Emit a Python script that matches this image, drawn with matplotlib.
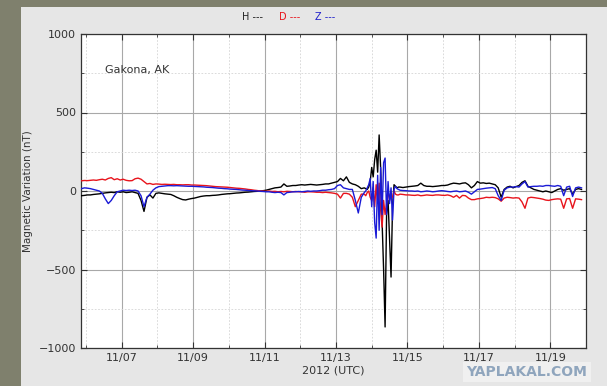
import numpy as np
import pandas as pd
import matplotlib
matplotlib.use("Agg")
import matplotlib.pyplot as plt

# ---- data -------------------------------------------------------------
start = pd.Timestamp("2012-11-05 21:00")
hours_a = np.arange(0, 190, 2)      # 2-hourly samples
hours_b = np.arange(190, 214, 1)    # hourly samples during the storm
hours_c = np.arange(214, 337, 2)    # 2-hourly samples

H_a = [-30, -28, -25, -25, -22, -20, -18, -15, -12, -10,
       -8, -10, -5, -8, -5, -10, -8, -5, -10, -15,
       -60, -130, -40, -25, -45, -15, -12, -15, -18, -20,
       -22, -30, -40, -48, -55, -57, -52, -48, -45, -40,
       -35, -32, -30, -30, -28, -27, -25, -22, -20, -18,
       -17, -15, -13, -12, -10, -8, -7, -5, -3, -2,
       0, 2, 5, 10, 15, 20, 22, 25, 45, 30,
       32, 35, 35, 38, 40, 38, 40, 42, 40, 38,
       40, 42, 45, 45, 50, 55, 60, 80, 65, 90,
       55, 45, 40, 30, 15]
D_a = [65, 67, 66, 68, 70, 68, 72, 75, 70, 80,
       85, 72, 78, 70, 75, 68, 65, 66, 78, 82,
       75, 60, 45, 48, 42, 45, 44, 42, 43, 42,
       41, 42, 40, 40, 39, 40, 40, 38, 38, 37,
       36, 35, 34, 32, 30, 28, 27, 26, 25, 24,
       22, 20, 18, 17, 15, 13, 10, 8, 5, 3,
       0, 0, -2, 0, -3, -2, -5, -3, -5, -2,
       -3, -5, -3, -5, -5, -8, -5, -5, -6, -8,
       -8, -10, -8, -10, -12, -15, -20, -45, -15, -15,
       -20, -40, -100, -60, -20]
Z_a = [15, 20, 18, 15, 10, 5, 0, -15, -50, -80,
       -60, -30, -5, 0, 5, 3, 5, 3, 5, 0,
       -30, -100, -40, -20, 5, 20, 28, 30, 32, 34,
       34, 33, 34, 33, 32, 31, 30, 30, 29, 28,
       27, 26, 24, 23, 22, 20, 18, 17, 15, 14,
       12, 11, 10, 8, 6, 5, 3, 2, 1, 0,
       -2, -3, -5, -5, -8, -10, -8, -10, -25, -10,
       -8, -5, -5, -3, -5, -3, 0, -2, 0, 0,
       2, 5, 5, 8, 10, 15, 35, 40, 20, 15,
       10, 10, -60, -140, -40]

H_b = [20, 15, 10, 25, 60, 150, 90, 200, 260, 120, 357, 150,
       -200, -500, -866, -150, -60, -300, -548, -100, 40, 30, 20, 25]
D_b = [-20, -30, -10, 0, -40, -60, 20, -100, 40, -80, 50, -120,
       -230, -60, -150, -80, 0, -60, -30, -40, 0, -20, -25, -25]
Z_b = [-10, 0, 20, 40, 80, -100, 60, -200, -300, 100, -250, 150,
       -150, 180, 210, -150, 60, -80, 20, -185, 10, 30, 15, 10]

H_c = [25, 22, 25, 28, 30, 32, 35, 50, 35, 30,
       30, 28, 30, 32, 35, 35, 38, 45, 50, 48,
       45, 50, 52, 40, 20, 35, 60, 50, 52, 48,
       50, 45, 40, 20, -40, 10, 25, 30, 20, 28,
       35, 55, 65, 30, 20, 10, 5, 0, -5, 0,
       -5, -10, 0, 10, 15, 5, 10, 15, -20, 10,
       15, 10]
D_c = [-20, -22, -25, -25, -27, -28, -25, -30, -28, -25,
       -27, -28, -25, -25, -27, -28, -25, -30, -40, -28,
       -45, -28, -30, -45, -55, -55, -50, -48, -45, -40,
       -42, -40, -42, -50, -65, -45, -40, -42, -45, -43,
       -45, -70, -110, -45, -40, -42, -45, -48, -52, -58,
       -60, -55, -52, -50, -52, -110, -50, -48, -110, -50,
       -52, -55]
Z_c = [5, 3, 2, 0, 0, -2, 0, -5, -3, 0,
       -2, -5, -3, 0, 2, 0, -3, -5, -2, 0,
       -5, -3, 0, -8, -20, -5, 10, 12, 15, 18,
       20, 22, 15, -30, -60, 5, 20, 25, 25, 28,
       25, 45, 60, 25, 28, 30, 30, 32, 30, 35,
       35, 32, 30, 35, 30, -30, 25, 30, -35, 20,
       25, 20]

hours = np.concatenate([hours_a, hours_b, hours_c])
times = start + pd.to_timedelta(hours, unit="h")
H = np.concatenate([H_a, H_b, H_c])
D = np.concatenate([D_a, D_b, D_c])
Z = np.concatenate([Z_a, Z_b, Z_c])

tick_labels = ["11/07", "11/09", "11/11", "11/13", "11/15", "11/17", "11/19"]

# ---- figure -----------------------------------------------------------
W, Hh = 607, 386
fig = plt.figure(figsize=(W / 100, Hh / 100), dpi=100, facecolor="#7f806d")
bg = fig.add_axes([21 / W, 0, 1 - 21 / W, 1 - 7 / Hh], zorder=-10)
bg.set_facecolor("#e6e6e6")
bg.set_xticks([])
bg.set_yticks([])
for s in bg.spines.values():
    s.set_visible(False)

ax = fig.add_axes([81 / W, 1 - 348 / Hh, 505 / W, 314 / Hh], zorder=1)
ax.set_facecolor("white")

ax.plot(times, H, color="black", lw=1.0, zorder=3)
ax.plot(times, D, color="#e8141c", lw=1.0, zorder=4)
ax.plot(times, Z, color="#1a1ad6", lw=1.0, zorder=5)

ax.set_ylim(-1000, 1000)
ax.set_xlim(pd.Timestamp("2012-11-05 20:40"), pd.Timestamp("2012-11-19 21:20"))
ax.set_yticks([-1000, -500, 0, 500, 1000])
ax.set_yticks([-750, -250, 250, 750], minor=True)
ax.set_yticklabels(["\u22121000", "\u2212500", "0", "500", "1000"])

major_days = pd.date_range("2012-11-07", "2012-11-19", freq="2D")
minor_days = pd.date_range("2012-11-06", "2012-11-20", freq="1D")
ax.set_xticks(major_days)
ax.set_xticklabels(tick_labels)
ax.set_xticks([d for d in minor_days if d not in set(major_days)], minor=True)

ax.grid(True, which="major", color="#a8a8a8", lw=0.8, ls="-")
ax.grid(True, which="minor", color="#d4d4d4", lw=0.6, ls=(0, (2, 2)))
ax.set_axisbelow(True)

ax.tick_params(which="both", direction="in", top=True, right=True,
               labelsize=8, colors="#333333", labelcolor="#333333")
ax.tick_params(which="major", length=4)
ax.tick_params(which="minor", length=2)
for s in ax.spines.values():
    s.set_color("#333333")
    s.set_linewidth(0.9)

ax.set_xlabel("2012 (UTC)", fontsize=8, color="#333333", labelpad=2)
ax.set_ylabel("Magnetic Variation (nT)", fontsize=7.5, color="#333333", labelpad=4)

ax.text(0.047, 0.885, "Gakona, AK", transform=ax.transAxes, fontsize=8,
        color="#333333", va="center", ha="left")

fig.text(253 / W, 1 - 17 / Hh, "H ---", color="#222222", fontsize=7,
         ha="center", va="center")
fig.text(290 / W, 1 - 17 / Hh, "D ---", color="#e8141c", fontsize=7,
         ha="center", va="center")
fig.text(325 / W, 1 - 17 / Hh, "Z ---", color="#2222cc", fontsize=7,
         ha="center", va="center")

fig.text(527 / W, 1 - 372 / Hh, "YAPLAKAL.COM", color="#8fa5bd", fontsize=10,
         fontweight="bold", ha="center", va="center", zorder=20,
         bbox=dict(facecolor="#f2f2f2", edgecolor="none", pad=2.5, alpha=0.9))

fig.savefig("out.png", dpi=100, facecolor=fig.get_facecolor())
